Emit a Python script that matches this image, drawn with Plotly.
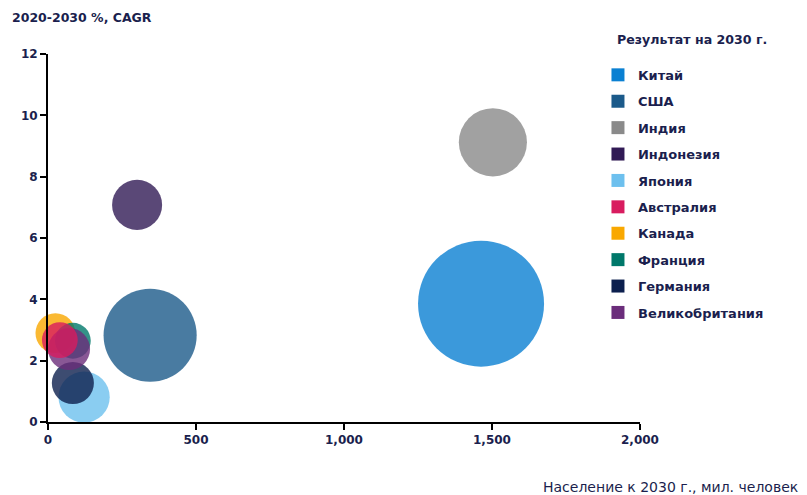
import plotly.graph_objects as go

countries = ["Китай", "США", "Индия", "Индонезия", "Япония",
             "Австралия", "Канада", "Франция", "Германия", "Великобритания"]
population_2030 = [1463, 345, 1503, 301, 122, 40, 25, 84, 84, 71]      # млн человек
cagr_2020_2030 = [3.86, 2.83, 9.12, 7.08, 0.81, 2.67, 2.90, 2.65, 1.27, 2.38]  # %
result_2030 = [26.0, 14.2, 7.6, 4.1, 4.3, 2.1, 2.6, 2.1, 2.9, 2.9]      # размер пузыря
colors = ["#0a80d2", "#1b5a8a", "#8a8a8a", "#311a55", "#6dc0ee",
          "#d81c5f", "#f9a800", "#00786a", "#0c1f4e", "#6b2d7b"]
draw_order = ["Китай", "США", "Индия", "Индонезия", "Япония", "Германия",
              "Канада", "Франция", "Великобритания", "Австралия"]

legend_title = "Результат на 2030 г."
y_title = "2020-2030 %, CAGR"
x_title = "Население к 2030 г., мил. человек"

TXT = "#1b1f4e"
FONT = "DejaVu Sans"

sizeref = 2 * max(result_2030) / 126 ** 2

fig = go.Figure()
for name in draw_order:
    i = countries.index(name)
    fig.add_trace(go.Scatter(
        x=[population_2030[i]], y=[cagr_2020_2030[i]], mode="markers",
        name=name, showlegend=False, cliponaxis=False,
        marker=dict(size=[result_2030[i]], sizemode="area", sizeref=sizeref,
                    color=colors[i], opacity=0.8, line=dict(width=0)),
        hoverinfo="name+x+y"))

for i, name in enumerate(countries):
    fig.add_trace(go.Scatter(
        x=[None], y=[None], mode="markers", name=name,
        legendgroup=name, showlegend=True,
        marker=dict(symbol="square", size=13, color=colors[i])))

tickfont = dict(family=FONT, size=12, color=TXT, weight="bold")

fig.update_layout(
    width=807, height=495,
    margin=dict(l=48, r=167, t=54, b=73),
    paper_bgcolor="white", plot_bgcolor="white",
    font=dict(family=FONT, size=13, color=TXT, weight="bold"),
    legend=dict(x=0.929, xanchor="left", y=0.984, yanchor="top",
                tracegroupgap=6.5, font=dict(family=FONT, size=13, color=TXT, weight="bold"),
                bgcolor="rgba(0,0,0,0)"),
    xaxis=dict(range=[0, 2000], dtick=500, tickformat=",d",
               showline=True, linecolor="black", linewidth=2,
               ticks="outside", ticklen=6, tickwidth=2, tickcolor="black",
               showgrid=False, zeroline=False, tickfont=tickfont),
    yaxis=dict(range=[0, 12], dtick=2,
               showline=True, linecolor="black", linewidth=2,
               ticks="outside", ticklen=6, tickwidth=2, tickcolor="black",
               showgrid=False, zeroline=False, tickfont=tickfont),
    annotations=[
        dict(text=y_title, xref="paper", yref="paper", x=-0.064, y=1.098,
             xanchor="left", yanchor="middle", showarrow=False,
             font=dict(family=FONT, size=12.5, color=TXT, weight="bold")),
        dict(text=x_title, xref="paper", yref="paper", x=(541 - 48) / 592, y=-0.177,
             xanchor="left", yanchor="middle", showarrow=False,
             font=dict(family=FONT, size=14, color=TXT, weight="normal")),
        dict(text=legend_title, xref="paper", yref="paper", x=(615 - 48) / 592, y=1.04,
             xanchor="left", yanchor="middle", showarrow=False,
             font=dict(family=FONT, size=12.6, color=TXT, weight="bold")),
    ],
)

fig.write_html("out.html")
